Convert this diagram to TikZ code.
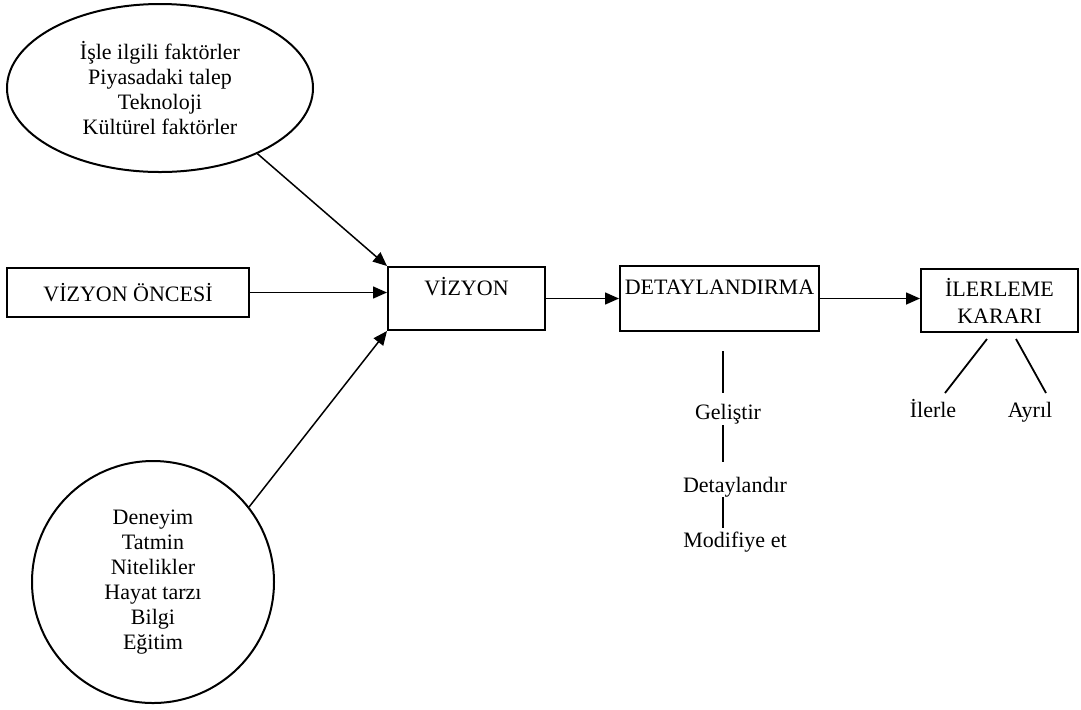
\documentclass[tikz,border=0pt]{standalone}
\usepackage{fontspec}
\setmainfont{Liberation Serif}
\usetikzlibrary{shapes.geometric,arrows.meta}

\tikzset{
  box/.style={draw, line width=1pt, inner sep=0pt},
  link/.style={-{Triangle[length=7pt,width=6pt]}, line width=0.75pt},
  stem/.style={line width=0.9pt},
  tag/.style={anchor=base}
}

\begin{document}
\begin{tikzpicture}[x=0.5pt,y=-0.5pt,font=\fontsize{11}{12.5}\selectfont]
        \useasboundingbox (0,0) rectangle (1081,709);

        \node[box, ellipse, minimum width=153pt, minimum height=84pt, align=center] (ctx) at (160,88)
          {İşle ilgili faktörler\\Piyasadaki talep\\Teknoloji\\Kültürel faktörler};
        \node[box, minimum width=121pt, minimum height=24.5pt] (pre) at (128,292.5) {VİZYON ÖNCESİ};
        \node[box, circle, minimum size=121pt, align=center] (exp) at (153,582)
          {Deneyim\\Tatmin\\Nitelikler\\Hayat tarzı\\Bilgi\\Eğitim};

        \node[box, anchor=north west, minimum width=78.5pt, text height=14.25pt, text depth=17.25pt] (viz) at (387,266) {VİZYON};
        \node[box, anchor=north west, minimum width=99.5pt, text height=14.25pt, text depth=18.25pt] (det) at (619,265) {DETAYLANDIRMA};
        \node[box, anchor=north west, minimum width=78.5pt, minimum height=31.5pt, align=center,
              font=\fontsize{11}{13.5}\selectfont] (ilr) at (920,268) {İLERLEME\\KARARI};

        \draw[link] (ctx.-34) -- (viz.north west);
        \draw[link] (pre) -- (pre -| viz.west);
        \draw[link] (exp.38) -- (viz.south west);
        \draw[link] (viz) -- (det);
        \draw[link] (det) -- (det -| ilr.west);

        % detaylandirma steps
        \node[tag] (dev) at (728,419) {Geliştir};
        \node[tag] (elab) at (735,492) {Detaylandır};
        \node[tag] (mod) at (735,547) {Modifiye et};
        \coordinate (s1) at (723,351);
        \coordinate (s2) at (723,393);
        \coordinate (s3) at (723,425);
        \coordinate (s4) at (723,462);
        \coordinate (s5) at (723,497);
        \coordinate (s6) at (723,528);
        \draw[stem] (s1) -- (s2);
        \draw[stem] (s3) -- (s4);
        \draw[stem] (s5) -- (s6);

        % karar
        \node[tag] (go) at (933,417) {İlerle};
        \node[tag] (quit) at (1030,417) {Ayrıl};
        \coordinate (g1) at (987,339);
        \coordinate (g2) at (945,393);
        \coordinate (q1) at (1016,339);
        \coordinate (q2) at (1046,393);
        \draw[stem] (g1) -- (g2);
        \draw[stem] (q1) -- (q2);
      \end{tikzpicture}
\end{document}
